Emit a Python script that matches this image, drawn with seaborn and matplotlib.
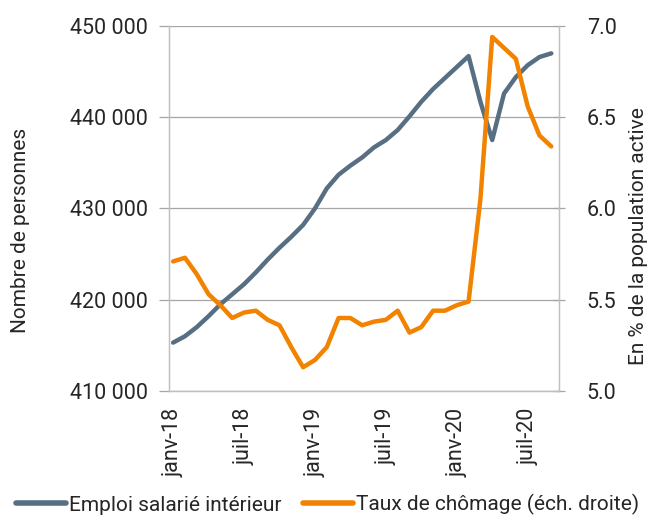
import matplotlib
matplotlib.use('Agg')
import matplotlib.pyplot as plt
import pandas as pd
import seaborn as sns

# mois de janv-18 a sept-20
mois = pd.date_range('2018-01-01', '2020-09-01', freq='MS')
emploi = [415300, 416000, 417000, 418200, 419500, 420600, 421700, 423000,
          424400, 425700, 426900, 428200, 430000, 432200, 433700, 434700,
          435600, 436700, 437500, 438600, 440100, 441700, 443100, 444300,
          445500, 446700, 441700, 437500, 442600, 444400, 445700, 446600,
          447000]
chomage = [5.71, 5.73, 5.64, 5.53, 5.47, 5.40, 5.43, 5.44, 5.39, 5.36,
           5.24, 5.13, 5.17, 5.24, 5.40, 5.40, 5.36, 5.38, 5.39, 5.44,
           5.32, 5.35, 5.44, 5.44, 5.47, 5.49, 6.05, 6.94, 6.88, 6.82,
           6.56, 6.40, 6.34]
noms_mois = {1: 'janv', 7: 'juil'}
tick_pos = [0, 6, 12, 18, 24, 30]
tick_labels = [f"{noms_mois[mois[i].month]}-{mois[i].strftime('%y')}" for i in tick_pos]

df = pd.DataFrame({'idx': range(len(mois)), 'emploi': emploi, 'chomage': chomage})

sns.set_style('white')
plt.rcParams['font.family'] = ['Roboto', 'DejaVu Sans']
plt.rcParams['font.size'] = 15
plt.rcParams['text.color'] = '#262626'
plt.rcParams['xtick.color'] = '#a6a6a6'
plt.rcParams['ytick.color'] = '#a6a6a6'
plt.rcParams['xtick.labelcolor'] = '#262626'
plt.rcParams['ytick.labelcolor'] = '#262626'

c_emploi = '#586f83'
c_chomage = '#f28300'
c_grille = '#a6a6a6'

fig = plt.figure(figsize=(6.55, 5.15), dpi=100)
ax = fig.add_axes([0.258, 0.2408, 0.5954, 0.7087])
ax2 = ax.twinx()

sns.lineplot(data=df, x='idx', y='emploi', ax=ax, color=c_emploi, linewidth=3.2,
             label='Emploi salarié intérieur', legend=False)
sns.lineplot(data=df, x='idx', y='chomage', ax=ax2, color=c_chomage, linewidth=3.2,
             label='Taux de chômage (éch. droite)', legend=False)

ax.set_xlim(-0.35, 32.65)
ax.set_ylim(410000, 450000)
ax.set_yticks([410000, 420000, 430000, 440000, 450000])
ax.set_yticklabels([f"{v:,}".replace(',', ' ') for v in ax.get_yticks().astype(int)])
ax2.set_ylim(5.0, 7.0)
ax2.set_yticks([5.0, 5.5, 6.0, 6.5, 7.0])
ax2.set_yticklabels([f"{v:.1f}" for v in ax2.get_yticks()])

ax.set_xticks(tick_pos)
ax.set_xticklabels(tick_labels, rotation=90)
ax.set_xlabel('')
ax.set_ylabel('')
ax2.set_ylabel('')

ax.grid(axis='y', color=c_grille, linewidth=0.9)
ax.set_axisbelow(True)
ax.tick_params(axis='y', length=7, width=0.9, pad=8, labelsize=15.5)
ax.tick_params(axis='x', length=7, width=0.9, pad=5, labelsize=15.5)
ax2.tick_params(axis='y', direction='inout', length=8, width=0.9, pad=16, labelsize=15.5)

for a in (ax, ax2):
    for s in a.spines.values():
        s.set_color('#bfbfbf')
        s.set_linewidth(0.9)
    a.spines['top'].set_visible(False)

fig.text(0.032, 0.553, 'Nombre de personnes', rotation=90, ha='center', va='center', fontsize=15)
fig.text(0.975, 0.542, 'En % de la population active', rotation=90, ha='center', va='center', fontsize=15)

h1, l1 = ax.get_legend_handles_labels()
h2, l2 = ax2.get_legend_handles_labels()
leg = fig.legend(h1 + h2, l1 + l2, loc='center', bbox_to_anchor=(0.5, 0.02), ncol=2, frameon=False,
                 handlelength=2.4, handletextpad=0.15, columnspacing=1.0, fontsize=15)
for ln in leg.get_lines():
    ln.set_linewidth(4)
    ln.set_solid_capstyle('round')

fig.savefig('out.png', dpi=100)
